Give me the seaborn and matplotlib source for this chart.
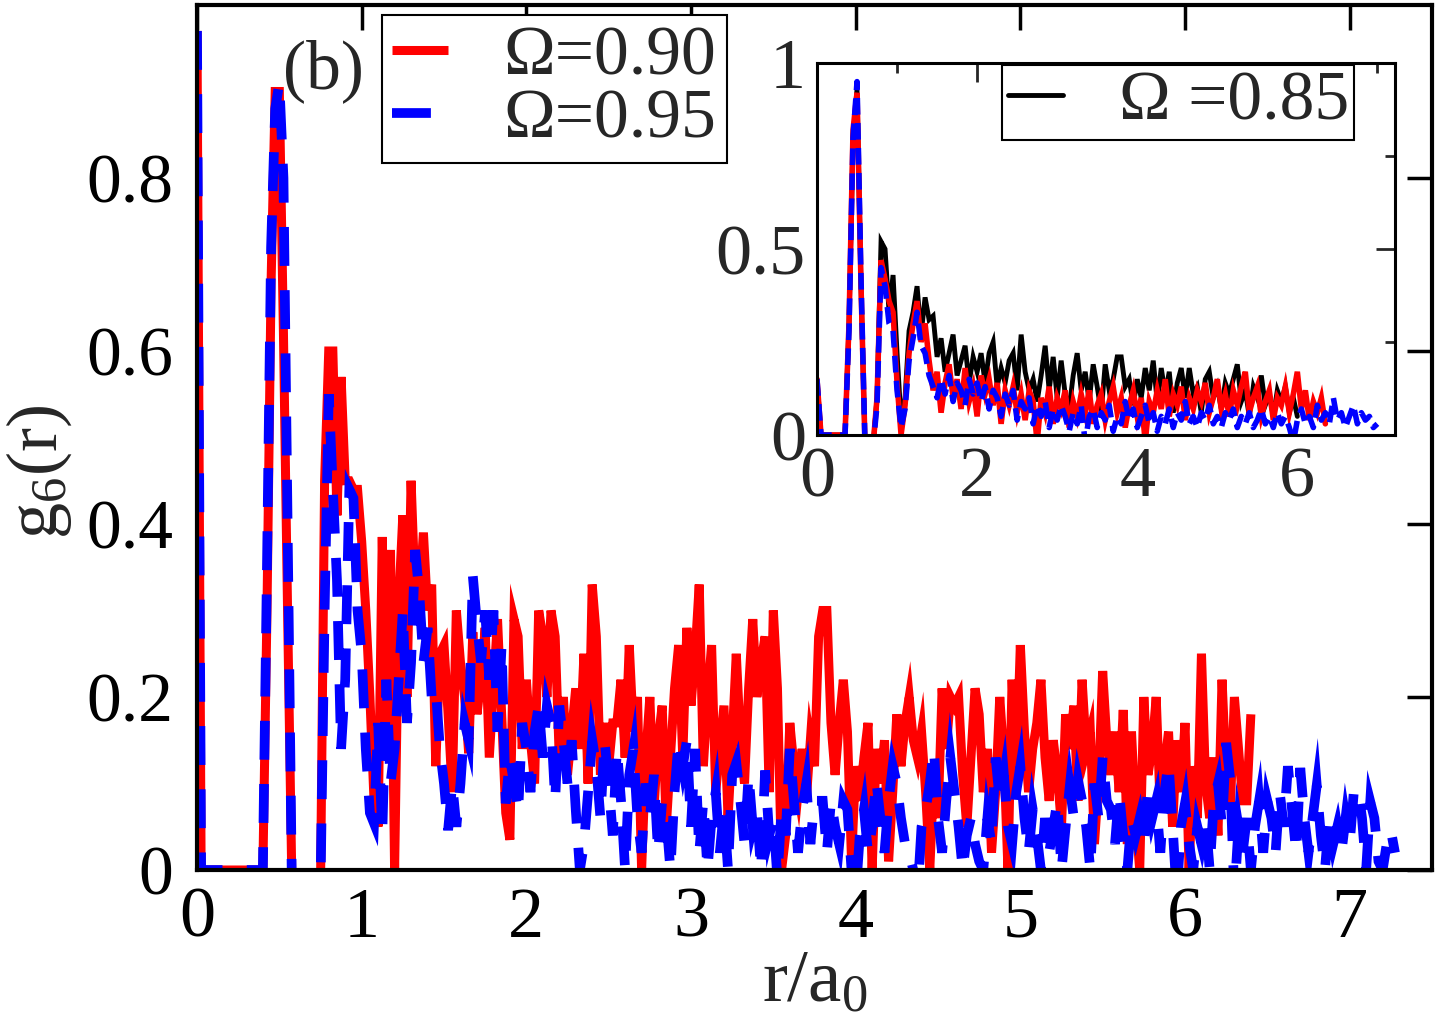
import numpy as np
import matplotlib
matplotlib.use("Agg")
import matplotlib.pyplot as plt
import seaborn as sns
from matplotlib.ticker import MultipleLocator, FuncFormatter

# main panel: g6(r) sampled every 0.025 a0, starting at r = 0
DR_MAIN = 0.025
red_090 = [0.97, 0, 0, 0, 0, 0, 0, 0, 0, 0,
           0, 0, 0, 0, 0, 0, 0, 0.30, 0.68, 0.90,
           0.90, 0.62, 0.30, 0.0, -0.05, -0.05, -0.05, -0.05, -0.05, -0.05,
           -0.02, 0.45, 0.60, 0.60, 0.41, 0.57, 0.45, 0.45, 0.44, 0.44,
           0.38, 0.30, 0.20, 0.08, 0.05, 0.385, 0.15, 0.37, 0.00, 0.31,
           0.41, 0.20, 0.45, 0.32, 0.315, 0.39, 0.30, 0.33, 0.12, 0.25,
           0.26, 0.18, 0.09, 0.30, 0.24, 0.20, 0.135, 0.275, 0.18, 0.22,
           0.28, 0.13, 0.21, 0.29, 0.18, 0.066, 0.035, 0.29, 0.27, 0.14,
           0.22, 0.15, 0.10, 0.30, 0.27, 0.20, 0.30, 0.27, 0.13, 0.20,
           0.11, 0.16, 0.21, 0.14, 0.25, 0.10, 0.33, 0.27, 0.11, 0.17,
           0.12, 0.17, 0.17, 0.22, 0.13, 0.26, 0.16, 0.20, 0.00, 0.13,
           0.20, 0.07, 0.15, 0.19, 0.05, 0.13, 0.21, 0.26, 0.13, 0.28,
           0.19, 0.25, 0.33, 0.12, 0.20, 0.26, 0.09, 0.14, 0.19, 0.06,
           0.15, 0.25, 0.15, 0.10, 0.21, 0.29, 0.20, 0.24, 0.27, 0.09,
           0.30, 0.21, 0.00, 0.04, 0.17, 0.12, 0.09, 0.14, 0.08, 0.15,
           0.12, 0.27, 0.30, 0.30, 0.17, 0.11, 0.17, 0.22, 0.16, 0.01,
           0.12, 0.08, 0.13, 0.17, 0.00, 0.14, 0.10, 0.15, 0.01, 0.09,
           0.18, 0.12, 0.17, 0.20, 0.15, 0.13, 0.16, 0.09, 0.00, 0.11,
           0.06, 0.21, 0.14, 0.20, 0.19, 0.20, 0.11, 0.05, 0.13, 0.21,
           0.18, 0.09, 0.14, 0.02, 0.09, 0.20, 0.13, 0.00, 0.22, 0.11,
           0.26, 0.16, 0.09, 0.14, 0.17, 0.22, 0.13, 0.08, 0.15, 0.11,
           0.05, 0.18, 0.14, 0.19, 0.08, 0.22, 0.14, 0.16, 0.03, 0.10,
           0.23, 0.15, 0.11, 0.16, 0.09, 0.185, 0.03, 0.16, 0.06, 0.00,
           0.20, 0.11, 0.14, 0.20, 0.07, 0.12, 0.16, 0.05, 0.15, 0.09,
           0.17, 0.00, 0.12, 0.06, 0.25, 0.10, 0.06, 0.13, 0.04, 0.22,
           0.11, 0.07, 0.20, 0.14, 0.08, 0.08, 0.18]

blue_095 = [0.97, 0, 0, 0, 0, 0, 0, 0, 0, 0,
            0, 0, 0, 0, 0, 0, 0, 0.35, 0.72, 0.88,
            0.91, 0.80, 0.40, 0.0, -0.05, -0.05, -0.05, -0.05, -0.05, -0.05,
            -0.02, 0.30, 0.55, 0.44, 0.335, 0.14, 0.22, 0.44, 0.43, 0.30,
            0.25, 0.14, 0.066, 0.054, 0.17, 0.04, 0.22, 0.10, 0.14, 0.22,
            0.30, 0.17, 0.24, 0.37, 0.32, 0.24, 0.28, 0.20, 0.21, 0.14,
            0.10, 0.046, 0.10, 0.05, 0.10, 0.17, 0.15, 0.34, 0.285, 0.24,
            0.30, 0.22, 0.30, 0.16, 0.26, 0.077, 0.13, 0.10, 0.066, 0.17,
            0.14, 0.09, 0.16, 0.19, 0.13, 0.19, 0.17, 0.08, 0.19, 0.15,
            0.10, 0.15, 0.07, 0.00, 0.03, 0.09, 0.15, 0.12, 0.06, 0.15,
            0.10, 0.04, 0.14, 0.08, 0.00, 0.11, 0.14, 0.06, 0.02, 0.10,
            0.06, 0.11, 0.02, 0.08, 0.06, 0.00, 0.09, 0.15, 0.12, 0.15,
            0.05, 0.14, 0.02, 0.08, 0.00, 0.06, 0.09, 0.02, 0.07, 0.00,
            0.11, 0.124, 0.08, 0.03, 0.11, 0.05, 0.07, 0.00, 0.115, 0.04,
            0.06, -0.01, 0.07, 0.04, 0.14, 0.08, 0.02, 0.07, 0.10, 0.03,
            0.08, 0.08, 0.08, 0.02, 0.08, 0.05, 0.03, 0.08, 0.07, 0.00,
            -0.03, 0.04, 0.07, 0.02, 0.05, 0.104, 0.06, 0.02, 0.08, 0.12,
            0.10, 0.06, 0.03, 0.02, 0.00, -0.03, 0.05, 0.07, 0.10, 0.14,
            0.06, 0.02, 0.08, 0.13, 0.09, 0.05, 0.00, 0.04, 0.06, 0.03,
            0.01, 0.00, 0.06, 0.03, 0.13, 0.08, 0.11, 0.05, 0.03, 0.09,
            0.12, 0.06, 0.02, 0.07, 0.04, 0.00, 0.06, 0.02, 0.05, 0.08,
            0.00, 0.05, 0.096, 0.06, 0.104, 0.08, 0.05, 0.00, 0.10, 0.06,
            0.13, 0.08, 0.07, 0.03, 0.09, 0.04, 0.00, 0.06, 0.04, 0.06,
            0.03, 0.096, 0.06, 0.08, 0.02, 0.09, 0.124, 0.05, -0.03, 0.05,
            0.077, 0.03, 0.00, 0.05, 0.03, 0.06, 0.00, 0.08, 0.10, 0.05,
            0.147, 0.104, -0.03, 0.05, 0.02, 0.06, 0.00, 0.05, 0.08, 0.02,
            0.08, 0.06, 0.02, 0.09, 0.05, 0.12, 0.07, 0.02, 0.118, 0.06,
            0.02, 0.06, 0.098, 0.04, 0.00, 0.06, 0.03, 0.05, 0.02, 0.06,
            0.03, 0.09, 0.095, 0.06, 0.00, 0.079, 0.06, 0.01, 0.00, 0.03,
            0.046, 0.02]

# inset: sampled every 0.05 a0
DR_INSET = 0.05
black_085 = [0.15, 0, 0, 0, 0, 0, 0, 0, 0.30, 0.80,
             0.93, 0.40, -0.03, -0.03, -0.03, 0.10, 0.52, 0.50, 0.33, 0.43,
             0.22, 0.04, 0.10, 0.28, 0.33, 0.40, 0.27, 0.37, 0.31, 0.32,
             0.21, 0.26, 0.17, 0.22, 0.27, 0.16, 0.20, 0.24, 0.14, 0.21,
             0.17, 0.22, 0.14, 0.22, 0.25, 0.13, 0.18, 0.14, 0.20, 0.22,
             0.12, 0.27, 0.17, 0.12, 0.15, 0.09, 0.16, 0.24, 0.12, 0.21,
             0.10, 0.20, 0.11, 0.07, 0.16, 0.22, 0.12, 0.17, 0.09, 0.19,
             0.13, 0.06, 0.19, 0.12, 0.15, 0.21, 0.21, 0.13, 0.15, 0.08,
             0.15, 0.10, 0.18, 0.12, 0.20, 0.09, 0.18, 0.11, 0.17, 0.06,
             0.14, 0.18, 0.10, 0.18, 0.11, 0.13, 0.06, 0.15, 0.17, 0.10,
             0.13, 0.07, 0.14, 0.11, 0.15, 0.19, 0.09, 0.12, 0.05, 0.13,
             0.10, 0.16, 0.08, 0.11, 0.05, 0.12, 0.09, 0.13, 0.06, 0.10,
             0.05]

red_inset = [0.15, 0, 0, 0, 0, 0, 0, 0, 0.30, 0.82,
             0.92, 0.40, -0.03, -0.03, -0.03, 0.10, 0.47, 0.42, 0.36, 0.33,
             0.14, 0.00, 0.08, 0.22, 0.30, 0.36, 0.25, 0.30, 0.20, 0.12,
             0.17, 0.06, 0.14, 0.19, 0.10, 0.15, 0.07, 0.18, 0.09, 0.13,
             0.05, 0.16, 0.11, 0.15, 0.08, 0.14, 0.03, 0.12, 0.08, 0.13,
             0.06, 0.11, 0.04, 0.12, 0.09, -0.02, 0.10, 0.06, 0.13, 0.03,
             0.10, 0.07, 0.12, 0.02, 0.09, 0.05, 0.11, 0.06, 0.12, 0.03,
             0.08, 0.11, 0.04, 0.09, 0.13, 0.06, 0.10, 0.02, 0.08, 0.12,
             0.05, 0.10, -0.02, 0.09, 0.06, 0.12, 0.07, 0.15, 0.05, 0.11,
             0.08, 0.13, 0.04, 0.10, 0.07, 0.12, 0.09, 0.14, 0.06, 0.10,
             0.15, 0.07, 0.11, 0.05, 0.12, 0.08, 0.13, 0.17, 0.06, 0.10,
             0.13, 0.05, 0.09, 0.12, 0.04, 0.10, 0.08, 0.13, 0.06, 0.11,
             0.17, 0.07, 0.12, 0.04, 0.09, 0.06, 0.10, 0.03]

blue_inset = [0.15, 0, 0, 0, 0, 0, 0, 0, 0.28, 0.80,
              0.95, 0.42, -0.03, -0.03, -0.03, 0.08, 0.45, 0.40, 0.30, 0.28,
              0.12, 0.02, 0.07, 0.20, 0.26, 0.33, 0.24, 0.22, 0.16, 0.13,
              0.10, 0.15, 0.11, 0.16, 0.09, 0.14, 0.12, 0.08, 0.15, 0.11,
              0.14, 0.09, 0.13, 0.07, 0.12, 0.10, 0.05, 0.11, 0.08, 0.12,
              0.04, 0.09, 0.07, 0.10, 0.03, 0.08, 0.05, 0.09, 0.02, 0.07,
              0.04, 0.08, 0.05, 0.01, 0.06, 0.03, 0.08, -0.02, 0.05, 0.07,
              0.02, 0.06, 0.04, 0.08, 0.01, 0.05, 0.03, 0.09, 0.04, 0.07,
              0.02, 0.05, 0.08, 0.03, 0.06, 0.01, 0.05, 0.03, 0.07, 0.02,
              0.06, 0.04, 0.09, 0.03, 0.05, 0.02, 0.06, 0.04, 0.08, 0.03,
              0.05, 0.02, 0.06, 0.04, 0.07, 0.02, 0.05, 0.03, 0.06, 0.02,
              0.04, 0.07, 0.03, 0.05, 0.02, 0.06, 0.03, 0.05, 0.02, -0.02,
              0.04, 0.07, 0.03, 0.05, 0.02, 0.08, 0.04, 0.06, 0.03, 0.10,
              0.04, 0.06, 0.02, 0.05, 0.08, 0.03, 0.06, 0.04, 0.05, 0.02,
              0.03]

labels_main = ["\u03a9=0.90", "\u03a9=0.95"]
label_inset = "\u03a9 =0.85"


def grid(vals, dr):
    return np.arange(len(vals)) * dr


sns.set_style("white")
plt.rcParams["font.family"] = ["Liberation Serif", "DejaVu Serif"]
plt.rcParams["mathtext.fontset"] = "custom"
plt.rcParams["mathtext.rm"] = "Liberation Serif"
plt.rcParams["mathtext.it"] = "Liberation Serif:italic"

W, H = 1436, 1023
fig = plt.figure(figsize=(W / 100, H / 100), dpi=100)
fig.patch.set_facecolor("white")

# ---- main panel
ax = fig.add_axes([197 / W, 1 - 870 / H, (1432 - 197) / W, 865 / H])
sns.lineplot(x=grid(red_090, DR_MAIN), y=red_090, ax=ax, color="red", lw=6.5,
             estimator=None, sort=False, label=labels_main[0],
             solid_joinstyle="miter", solid_capstyle="butt")
sns.lineplot(x=grid(blue_095, DR_MAIN), y=blue_095, ax=ax, color="blue", lw=7,
             estimator=None, sort=False, label=labels_main[1],
             linestyle=(0, (4, 2.5)), dash_capstyle="butt", dash_joinstyle="miter")
ax.set_xlim(0, 7.5)
ax.set_ylim(0, 1.0)
ax.set_xticks(range(8))
ax.set_yticks([0, 0.2, 0.4, 0.6, 0.8])
ax.set_yticklabels(["0", "0.2", "0.4", "0.6", "0.8"])
ax.tick_params(direction="in", length=18, width=2.5, top=True, right=True,
               labelsize=52, colors="black")
ax.tick_params(axis="y", pad=17, labelsize=50)
ax.tick_params(axis="x", pad=12)
for s in ax.spines.values():
    s.set_linewidth(3)
    s.set_color("black")
ax.set_xlabel("r/a$_\\mathrm{0}$", fontsize=54)
ax.set_ylabel("g$_\\mathrm{6}$(r)", fontsize=52)
ax.xaxis.set_label_coords(0.5, -0.092)
ax.yaxis.set_label_coords(-0.1, 0.46)

leg = ax.legend(loc="upper left", bbox_to_anchor=(382 / W, 1 - 15 / H),
                bbox_transform=fig.transFigure, borderaxespad=0, fontsize=50,
                handlelength=0.8, handletextpad=0.8, borderpad=0.15,
                labelspacing=0.0, fancybox=False, framealpha=1,
                edgecolor="black")
leg.get_frame().set_linewidth(1.5)

fig.text(283 / W, 1 - 88 / H, "(b)", fontsize=50, ha="left", va="baseline")

# ---- inset
axi = fig.add_axes([817 / W, 1 - 435 / H, 578 / W, 372 / H])
axi.set_facecolor("white")
sns.lineplot(x=grid(black_085, DR_INSET), y=black_085, ax=axi, color="black",
             lw=3.5, estimator=None, sort=False, label=label_inset,
             solid_joinstyle="miter")
sns.lineplot(x=grid(red_inset, DR_INSET), y=red_inset, ax=axi, color="red",
             lw=4, estimator=None, sort=False, label="_nolegend_",
             solid_joinstyle="miter")
sns.lineplot(x=grid(blue_inset, DR_INSET), y=blue_inset, ax=axi, color="blue",
             lw=4, estimator=None, sort=False, label="_nolegend_",
             linestyle=(0, (3, 1.5)))
axi.set_xlim(0, 7.22)
axi.set_ylim(0, 1.0)
axi.xaxis.set_major_locator(MultipleLocator(2))
axi.xaxis.set_minor_locator(MultipleLocator(1))
axi.yaxis.set_major_locator(MultipleLocator(0.5))
axi.yaxis.set_minor_locator(MultipleLocator(0.25))
axi.yaxis.set_major_formatter(FuncFormatter(lambda v, p: "%g" % v))
axi.tick_params(which="major", direction="in", length=14, width=2,
                top=True, right=True, labelsize=52, pad=8)
axi.tick_params(which="minor", direction="in", length=7, width=2,
                top=True, right=True)
for s in axi.spines.values():
    s.set_linewidth(2.2)
    s.set_color("black")
axi.set_xlabel("")
axi.set_ylabel("")
legi = axi.legend(loc="upper left", bbox_to_anchor=(1002 / W, 1 - 65 / H),
                  bbox_transform=fig.transFigure, borderaxespad=0, fontsize=50,
                  handlelength=0.8, handletextpad=0.8, borderpad=0.08,
                  fancybox=False, framealpha=1, edgecolor="black")
legi.get_frame().set_linewidth(1.5)

fig.savefig("out.png", dpi=100, facecolor="white")
